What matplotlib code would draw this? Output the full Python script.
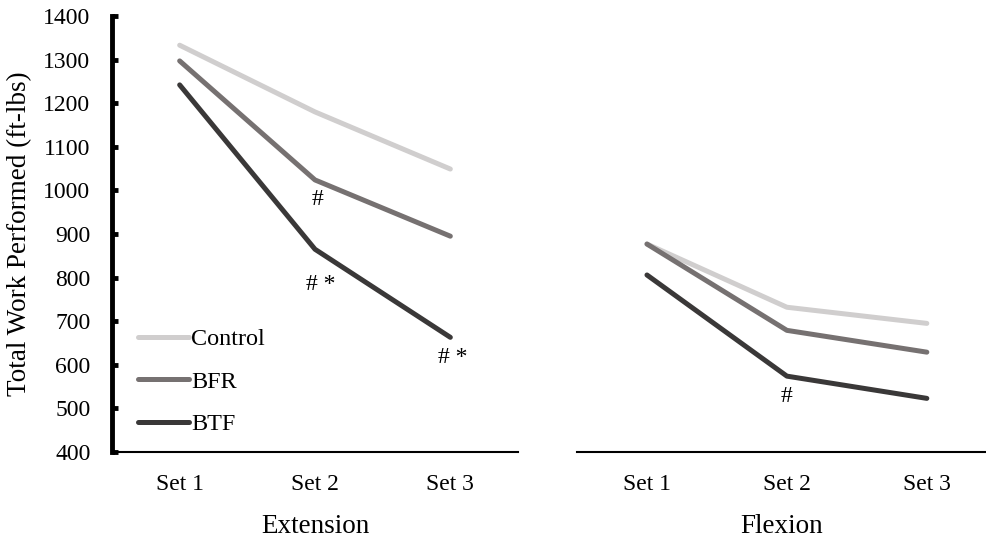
import matplotlib.pyplot as plt

sets = ['Set 1', 'Set 2', 'Set 3']
groups = ['Control', 'BFR', 'BTF']
colors = ['#d0cece', '#767171', '#3a3838']

ext_control = [1333, 1180, 1049]
ext_bfr = [1297, 1024, 895]
ext_btf = [1242, 865, 663]

flx_control = [877, 732, 695]
flx_bfr = [877, 679, 629]
flx_btf = [806, 574, 523]

yticks = list(range(400, 1401, 100))

plt.rcParams['font.family'] = ['Liberation Serif', 'DejaVu Serif']

fig = plt.figure(figsize=(9.87, 5.44), dpi=100)
W, H = 987, 544
ax1 = fig.add_axes([112 / W, 1 - 452 / H, 406 / W, 436 / H])
ax2 = fig.add_axes([577 / W, 1 - 452 / H, 410 / W, 436 / H])

x = range(len(sets))
for ax, data in [(ax1, [ext_control, ext_bfr, ext_btf]),
                 (ax2, [flx_control, flx_bfr, flx_btf])]:
    for vals, c, g in zip(data, colors, groups):
        ax.plot(x, vals, color=c, lw=3.6, solid_capstyle='round',
                solid_joinstyle='round', label=g)
    ax.set_ylim(400, 1400)
    ax.set_xticks(list(x))
    ax.set_xticklabels(sets, fontsize=17)
    ax.tick_params(axis='x', length=0, pad=15.5)
    for s in ['top', 'right']:
        ax.spines[s].set_visible(False)
    ax.spines['bottom'].set_linewidth(1.5)

ax1.set_xlim(-0.5, 2.5)
ax2.set_xlim(-0.5, 2.43)

ax1.spines['left'].set_linewidth(3.5)
ax1.set_yticks(yticks)
ax1.tick_params(axis='y', direction='in', length=4, width=3.5, labelsize=17, pad=15.5)
ax1.set_ylabel('Total Work Performed (ft-lbs)', fontsize=19.5, labelpad=8)

ax2.spines['left'].set_visible(False)
ax2.set_yticks([])

ax1.set_xlabel('Extension', fontsize=19.5, labelpad=14)
ax2.set_xlabel('Flexion', fontsize=19.5, labelpad=14)

# significance markers
ax1.text(1.02, ext_bfr[1] - 46, '#', ha='center', va='center', fontsize=17)
ax1.text(1.04, ext_btf[1] - 80, '# *', ha='center', va='center', fontsize=17)
ax1.text(2.02, ext_btf[2] - 46, '# *', ha='center', va='center', fontsize=17)
ax2.text(1, flx_btf[1] - 46, '#', ha='center', va='center', fontsize=17)

ax1.legend(loc='lower left', bbox_to_anchor=(0.022, 0.0), frameon=False,
           fontsize=17.4, handlelength=2.1, handletextpad=0.1,
           labelspacing=0.85, borderaxespad=0.3)

fig.savefig('out.png', dpi=100)
